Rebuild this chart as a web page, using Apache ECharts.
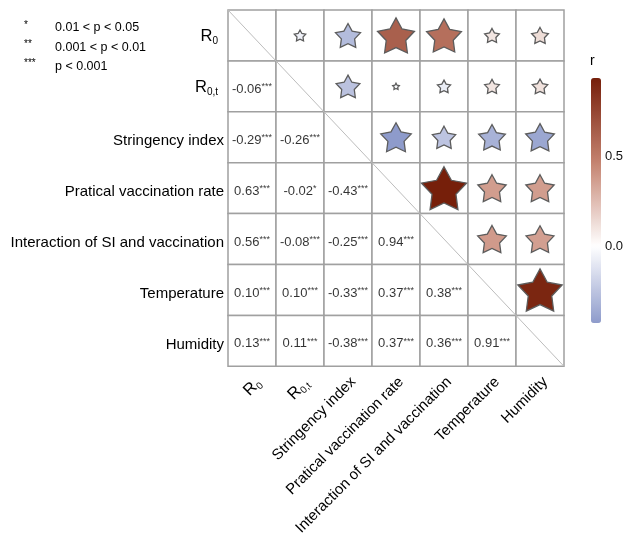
<!DOCTYPE html>
<html><head><meta charset="utf-8">
<script src="https://cdn.jsdelivr.net/npm/echarts@6/dist/echarts.min.js"></script>
<style>html,body{margin:0;padding:0;background:#fff}#c{width:626px;height:538px}</style>
</head><body><div id="c"></div>
<script>
// ---- data ----
const varLabels = ['R0', 'R0,t', 'Stringency index', 'Pratical vaccination rate',
  'Interaction of SI and vaccination', 'Temperature', 'Humidity'];
// lower triangle correlation coefficients (row i, columns 0..i-1)
const rLower = [
  [],
  [-0.06],
  [-0.29, -0.26],
  [0.63, -0.02, -0.43],
  [0.56, -0.08, -0.25, 0.94],
  [0.10, 0.10, -0.33, 0.37, 0.38],
  [0.13, 0.11, -0.38, 0.37, 0.36, 0.91]
];
const sigLower = [
  [],
  ['***'],
  ['***', '***'],
  ['***', '*', '***'],
  ['***', '***', '***', '***'],
  ['***', '***', '***', '***', '***'],
  ['***', '***', '***', '***', '***', '***']
];
const legendSymbols = ['*', '**', '***'];
const legendTexts = ['0.01 < p < 0.05', '0.001 < p < 0.01', 'p < 0.001'];
const colorbarTicks = [0, 0.5];
const rMin = -0.43, rMax = 0.94;

// ---- helpers ----
const FONT = 'Liberation Sans, Arial, sans-serif';
const n = varLabels.length;
const cellData = [];
for (let i = 0; i < n; i++) for (let j = 0; j < n; j++) cellData.push([j, i]);
const starData = [], textData = [];
for (let i = 0; i < n; i++) {
  for (let j = 0; j < i; j++) {
    starData.push([i, j, rLower[i][j]]);
    textData.push([j, i, rLower[i][j], sigLower[i][j]]);
  }
}
function hex2rgb(h){return [parseInt(h.slice(1,3),16),parseInt(h.slice(3,5),16),parseInt(h.slice(5,7),16)];}
const anchors = [[rMin, '#8e9bcb'], [0, '#ffffff'], [0.47, '#c4826f'], [rMax, '#761f0a']];
function colorAt(v){
  for (let k = 0; k < anchors.length - 1; k++) {
    const a = anchors[k], b = anchors[k+1];
    if (v <= b[0] || k === anchors.length - 2) {
      const t = Math.max(0, Math.min(1, (v - a[0]) / (b[0] - a[0])));
      const ca = hex2rgb(a[1]), cb = hex2rgb(b[1]);
      return 'rgb(' + ca.map((c, q) => Math.round(c + (cb[q] - c) * t)).join(',') + ')';
    }
  }
}
const gradStops = [];
for (let k = 0; k <= 60; k++) gradStops.push(colorAt(rMin + (rMax - rMin) * k / 60));
// star path
let sp = 'path://';
for (let k = 0; k < 10; k++) {
  const ang = -Math.PI / 2 + k * Math.PI / 5;
  const rad = k % 2 === 0 ? 100 : 53;
  sp += (k === 0 ? 'M' : 'L') + (rad * Math.cos(ang)).toFixed(2) + ' ' + (rad * Math.sin(ang)).toFixed(2) + ' ';
}
sp += 'Z';

function yFmt(v) {
  if (v === 'R0') return '{r|R}{s|0}{g|}';
  if (v === 'R0,t') return '{r|R}{s|0,t}{g|}';
  return '{m|' + v + '}';
}
function xFmt(v) {
  if (v === 'R0') return '{r|R}{s|0}';
  if (v === 'R0,t') return '{r|R}{s|0,t}';
  return '{m|' + v + '}';
}
const xRich = {
  m: {fontSize: 15, color: '#000', fontFamily: FONT},
  r: {fontSize: 16.5, color: '#000', fontFamily: FONT},
  s: {fontSize: 10, color: '#000', fontFamily: FONT, padding: [9, 0, 0, 0]}
};
const yRich = {
  m: {fontSize: 15, color: '#000', fontFamily: FONT, padding: [7, 0, 0, 0]},
  r: {fontSize: 16.5, color: '#000', fontFamily: FONT, padding: [3, 0, 0, 0]},
  s: {fontSize: 10, color: '#000', fontFamily: FONT, padding: [11, 0, 0, 0]},
  g: {width: 6}
};

const chart = echarts.init(document.getElementById('c'));
const graphics = [];
legendSymbols.forEach((s, k) => {
  const y = 28.5 + k * 19.1;
  graphics.push({type: 'text', left: 24, top: y - 8, style: {text: s, fontSize: 10, fill: '#000', fontFamily: FONT}});
  graphics.push({type: 'text', left: 55, top: y - 7, style: {text: legendTexts[k], fontSize: 12.5, fill: '#000', fontFamily: FONT}});
});
graphics.push({type: 'text', left: 590, top: 54, style: {text: 'r', fontSize: 14, fill: '#000', fontFamily: FONT}});

chart.setOption({
  animation: false,
  backgroundColor: '#fff',
  graphic: graphics,
  grid: [
    {left: 228, top: 10, width: 336, height: 357},
    {left: 591, top: 78, width: 10, height: 245}
  ],
  xAxis: [
    {type: 'category', data: varLabels, gridIndex: 0, axisLine: {show: false}, axisTick: {show: false}, splitLine: {show: false},
      axisLabel: {rotate: 45, margin: 8, verticalAlign: 'top', formatter: xFmt, rich: xRich, interval: 0}},
    {type: 'value', gridIndex: 1, show: false, min: 0, max: 1}
  ],
  yAxis: [
    {type: 'category', data: varLabels, inverse: true, gridIndex: 0, axisLine: {show: false}, axisTick: {show: false}, splitLine: {show: false},
      axisLabel: {margin: 4, formatter: yFmt, rich: yRich, interval: 0}},
    {type: 'value', gridIndex: 1, min: rMin, max: rMax, position: 'right', axisLine: {show: false}, splitLine: {show: false},
      axisTick: {show: true, inside: true, length: 2, customValues: colorbarTicks, lineStyle: {color: '#fff', width: 1}},
      axisLabel: {customValues: colorbarTicks, formatter: v => v.toFixed(1), fontSize: 13, color: '#111', margin: 6, fontFamily: FONT}},
    {type: 'value', gridIndex: 1, min: rMin, max: rMax, position: 'left', axisLine: {show: false}, splitLine: {show: false},
      axisTick: {show: true, inside: true, length: 2, customValues: colorbarTicks, lineStyle: {color: '#fff', width: 1}},
      axisLabel: {show: false}}
  ],
  visualMap: {
    type: 'continuous', min: rMin, max: rMax, dimension: 2, seriesIndex: 1,
    left: 591, top: 78, itemWidth: 10, itemHeight: 245, padding: 0, calculable: false, hoverLink: false,
    inRange: {color: gradStops}, text: null
  },
  series: [
    {type: 'custom', xAxisIndex: 0, yAxisIndex: 0, data: cellData, z: 1, silent: true,
      renderItem: function(params, api) {
        const p = api.coord([api.value(0), api.value(1)]);
        const s = api.size([1, 1]);
        return {type: 'rect', shape: {x: p[0] - s[0] / 2, y: p[1] - s[1] / 2, width: s[0], height: s[1]},
          style: {fill: '#fff', stroke: '#a0a0a0', lineWidth: 1.5}};
      }},
    {type: 'scatter', xAxisIndex: 0, yAxisIndex: 0, data: starData, z: 4, symbol: sp, symbolKeepAspect: true,
      symbolSize: function(v) { return 46.5 * Math.sqrt(Math.abs(v[2])); },
      itemStyle: {borderColor: '#5c5c5c', borderWidth: 1.3, opacity: 1}},
    {type: 'scatter', xAxisIndex: 0, yAxisIndex: 0, data: textData, z: 5, symbolSize: 1, itemStyle: {color: 'rgba(0,0,0,0)'},
      label: {show: true, position: 'inside', offset: [0, 3], formatter: function(p) {
          return '{v|' + p.value[2].toFixed(2) + '}{s|' + p.value[3] + '}';
        },
        rich: {
          v: {fontSize: 13, color: '#000', fontFamily: FONT},
          s: {fontSize: 9, color: '#000', fontFamily: FONT, padding: [0, 0, 5, 0]}
        }}},
    {type: 'custom', xAxisIndex: 0, yAxisIndex: 0, data: [[0, 0]], z: 2, silent: true,
      renderItem: function(params, api) {
        const c = params.coordSys;
        return {type: 'line', shape: {x1: c.x, y1: c.y, x2: c.x + c.width, y2: c.y + c.height},
          style: {stroke: '#bdbdbd', lineWidth: 1}};
      }}
  ]
});
</script></body></html>
